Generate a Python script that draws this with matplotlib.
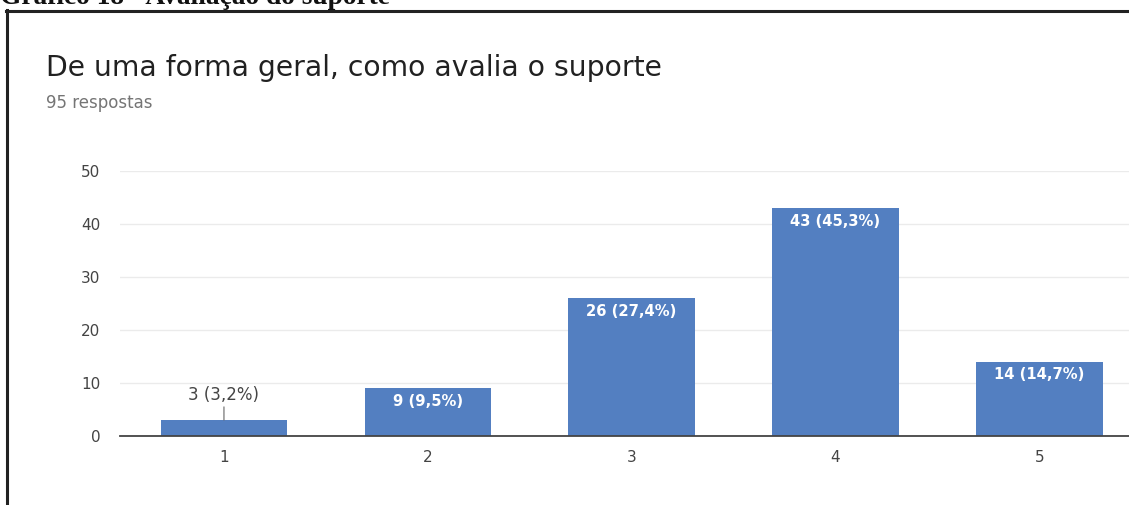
import matplotlib
matplotlib.use("Agg")
import matplotlib.pyplot as plt
from matplotlib.lines import Line2D

categories = ["1", "2", "3", "4", "5"]
counts = [3, 9, 26, 43, 14]
labels = ["3 (3,2%)", "9 (9,5%)", "26 (27,4%)", "43 (45,3%)", "14 (14,7%)"]

W, H = 1129, 505
fig = plt.figure(figsize=(W / 100, H / 100), dpi=100)

# caption of the document (cut off at the top)
fig.text(0 / W, 1 - 4 / H, "Gráfico 18 - Avaliação do suporte", fontsize=19.7,
         family="Liberation Serif", weight="bold", va="baseline", ha="left", color="#111111")

# frame around the google forms card
fig.add_artist(Line2D([6.5 / W, 6.5 / W], [0, 1 - 10 / H], color="#222222", lw=2.2))
fig.add_artist(Line2D([5.5 / W, 1], [1 - 11 / H, 1 - 11 / H], color="#222222", lw=2.2))

fig.text(46 / W, 1 - 76 / H, "De uma forma geral, como avalia o suporte", fontsize=20.3,
         family="DejaVu Sans", color="#212121", va="baseline")
fig.text(46 / W, 1 - 108 / H, "95 respostas", fontsize=12,
         family="DejaVu Sans", color="#757575", va="baseline")

ax = fig.add_axes([120 / W, 69 / H, 1 - 120 / W, 265 / H])
x = list(range(1, len(categories) + 1))
ax.bar(x, counts, width=0.62, color="#537fc1", zorder=3)

ax.set_xlim(0.49, 5.44)
ax.set_ylim(0, 50)
ax.set_yticks([0, 10, 20, 30, 40, 50])
ax.set_xticks(x)
ax.set_xticklabels(categories)
ax.grid(axis="y", color="#ebebeb", lw=1, zorder=0)
for s in ["top", "right", "left"]:
    ax.spines[s].set_visible(False)
ax.spines["bottom"].set_color("#444444")
ax.spines["bottom"].set_linewidth(1.3)
ax.spines["bottom"].set_zorder(4)
ax.tick_params(axis="both", length=0, labelsize=11, labelcolor="#444444")
ax.tick_params(axis="y", pad=14)
ax.tick_params(axis="x", pad=10)
for t in ax.get_xticklabels() + ax.get_yticklabels():
    t.set_family("DejaVu Sans")

for xi, c, lab in zip(x, counts, labels):
    if c < 5:
        ax.annotate(lab, xy=(xi, c), xytext=(0, 18), textcoords="offset points",
                    ha="center", va="center", fontsize=12, family="DejaVu Sans", color="#444444",
                    arrowprops=dict(arrowstyle="-", color="#666666", lw=0.8, shrinkA=0, shrinkB=0))
    else:
        ax.annotate(lab, xy=(xi, c), xytext=(0, -4), textcoords="offset points",
                    ha="center", va="top", fontsize=10.6, family="DejaVu Sans", weight="bold",
                    color="white", zorder=5)

fig.savefig("out.png", dpi=100)
